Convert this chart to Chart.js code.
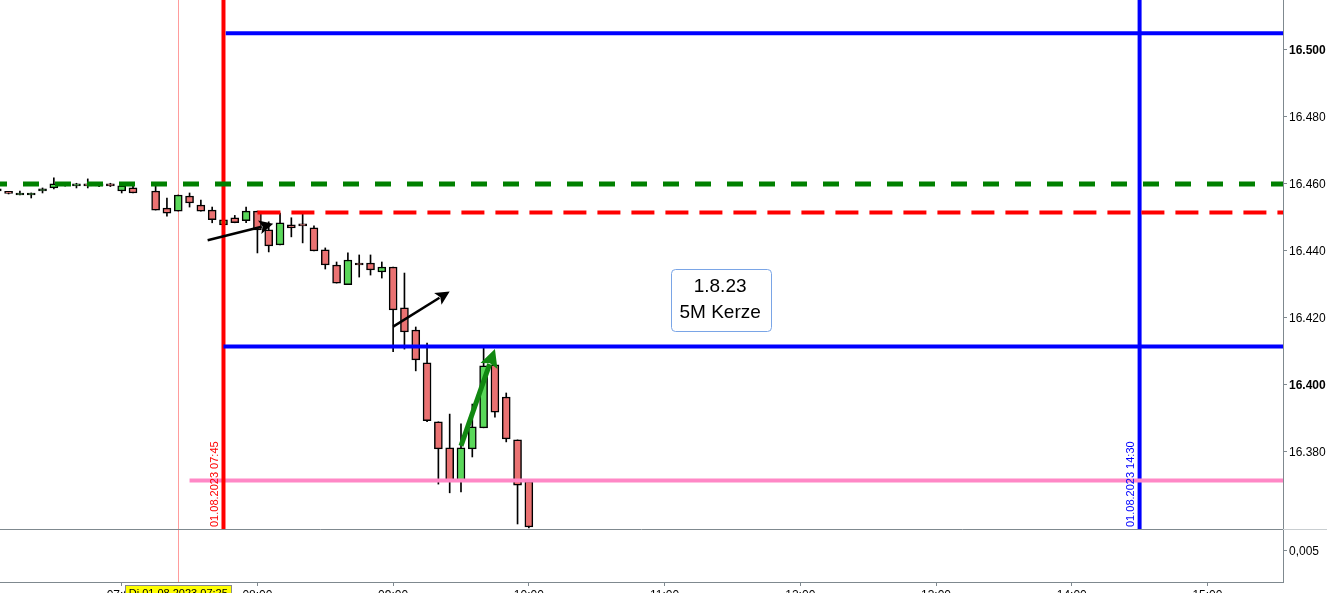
<!DOCTYPE html>
<html>
<head>
<meta charset="utf-8">
<title>DAX 5M</title>
<script src="https://cdn.jsdelivr.net/npm/chart.js@4.4.1/dist/chart.umd.min.js"></script>
<style>
  html, body { margin: 0; padding: 0; overflow: hidden; background: #fff; }
  #wrap { position: relative; width: 1327px; height: 605px; }
</style>
</head>
<body>
<div id="wrap"><canvas id="chartKerzen" width="1327" height="605"></canvas></div>
<script>
// 5-Minuten-Kerzen vom 01.08.2023 (Punkte)
const candleTimes = ['06:05', '06:10', '06:15', '06:20', '06:25', '06:30', '06:35', '06:40', '06:45', '06:50',
  '06:55', '07:00', '07:05', '07:15', '07:20', '07:25', '07:30', '07:35', '07:40', '07:45',
  '07:50', '07:55', '08:00', '08:05', '08:10', '08:15', '08:20', '08:25', '08:30', '08:35',
  '08:40', '08:45', '08:50', '08:55', '09:00', '09:05', '09:10', '09:15', '09:20', '09:25',
  '09:30', '09:35', '09:40', '09:45', '09:50', '09:55', '10:00'];
const opens = [16458.5, 16457.2, 16456.7, 16456.7, 16457.9, 16458.8, 16460.2, 16459.4, 16459.4, 16459.7,
  16460.0, 16457.9, 16458.8, 16457.9, 16452.8, 16451.9, 16456.4, 16453.7, 16452.2, 16447.8,
  16449.9, 16449.0, 16451.9, 16446.3, 16441.8, 16447.8, 16447.5, 16446.9, 16440.3, 16435.8,
  16429.9, 16436.4, 16436.4, 16433.7, 16435.2, 16423.0, 16416.4, 16406.6, 16389.0, 16381.2,
  16371.3, 16380.9, 16387.2, 16406.0, 16396.4, 16383.6, 16371.3];
const highs = [16458.8, 16457.5, 16457.9, 16457.3, 16458.8, 16461.8, 16460.5, 16460.2, 16461.5, 16460.0,
  16460.2, 16460.3, 16459.4, 16459.4, 16455.8, 16456.7, 16457.3, 16455.2, 16453.1, 16449.6,
  16450.6, 16453.1, 16451.9, 16448.7, 16451.3, 16449.9, 16451.0, 16447.5, 16440.9, 16436.7,
  16439.4, 16438.8, 16438.8, 16436.7, 16435.2, 16433.4, 16417.3, 16412.5, 16389.0, 16391.3,
  16388.4, 16394.3, 16411.3, 16406.0, 16397.6, 16383.6, 16371.3];
const lows = [16457.6, 16457.0, 16456.7, 16455.8, 16457.3, 16458.5, 16459.3, 16458.8, 16458.8, 16459.2,
  16459.2, 16457.3, 16457.3, 16452.2, 16450.4, 16451.9, 16453.1, 16451.9, 16448.4, 16447.5,
  16448.4, 16448.4, 16439.4, 16439.7, 16441.8, 16444.2, 16442.4, 16440.0, 16434.6, 16430.4,
  16429.9, 16432.2, 16432.8, 16431.9, 16409.9, 16410.7, 16404.2, 16389.0, 16370.4, 16367.8,
  16368.1, 16378.5, 16387.2, 16390.4, 16383.0, 16358.5, 16357.3];
const closes = [16457.9, 16457.2, 16457.2, 16457.3, 16458.5, 16460.0, 16459.6, 16460.0, 16459.4, 16459.4,
  16459.4, 16459.4, 16457.3, 16452.2, 16451.3, 16456.7, 16454.3, 16451.9, 16449.3, 16449.3,
  16448.4, 16451.9, 16446.3, 16441.5, 16448.4, 16446.9, 16447.5, 16440.0, 16435.8, 16430.4,
  16437.3, 16435.8, 16434.3, 16435.2, 16422.4, 16415.8, 16407.5, 16389.3, 16380.9, 16371.3,
  16381.2, 16387.5, 16405.7, 16391.9, 16383.9, 16370.1, 16357.6];

// horizontale Marken (Niveau und Beginn)
const greenLevel = 16460;
const redLevel = 16451.5;
const redLevelFrom = '08:00';
const blueTopLevel = 16505;
const blueTopFrom = '07:46';
const blueMidLevel = 16411.5;
const blueMidFrom = '07:45';
const pinkLevel = 16371.5;
const pinkFrom = '07:30';

// senkrechte Marken
const markerTimes = ['07:45', '14:30'];
const markerLabels = ['01.08.2023 07:45', '01.08.2023 14:30'];
const cursorTime = '07:25';
const cursorLabel = 'Di 01.08.2023 07:25';

// Pfeile (Zeit, Kurs)
const arrowFrom = [['07:38', 16443.2], ['09:00', 16417.4], ['09:30', 16381.8]];
const arrowTo = [['08:07', 16448.1], ['09:25', 16427.9], ['09:45', 16410.7]];

// Notiz
const noteLines = ['1.8.23', '5M Kerze'];
const noteAt = ['11:25', 16425.4];

// Achsen
const xTickTimes = ['07:00', '08:00', '09:00', '10:00', '11:00', '12:00', '13:00', '14:00', '15:00'];
const yTicks = [16380, 16400, 16420, 16440, 16460, 16480, 16500];
const indTicks = [0.005];

const toMin = s => { const p = s.split(':').map(Number); return p[0] * 60 + p[1]; };
const fmtTime = v => String(Math.floor(v / 60)).padStart(2, '0') + ':' + String(Math.round(v % 60)).padStart(2, '0');
const fmtPoints = v => String(Math.round(v)).replace(/\B(?=(\d{3})+(?!\d))/g, '.');

const X_MIN = 366.2, X_MAX = 933.4;
const Y_MIN = 16357.0, Y_MAX = 16514.9;
const GRAY = '#7f898f';
const FONT = '"Liberation Sans", Arial, sans-serif';

Chart.defaults.font.family = FONT;
Chart.defaults.font.size = 12;
Chart.defaults.color = '#000';

function hLine(level, from, color, width, dash, offset) {
  return {
    type: 'line', yAxisID: 'y', order: 0,
    data: [{ x: from, y: level }, { x: X_MAX, y: level }],
    borderColor: color, borderWidth: width, borderDash: dash || [], borderDashOffset: offset || 0,
    pointRadius: 0, borderCapStyle: 'butt'
  };
}
function vLine(t, color) {
  return {
    type: 'line', yAxisID: 'y', order: 0,
    data: [{ x: toMin(t), y: Y_MIN }, { x: toMin(t), y: Y_MAX }],
    borderColor: color, borderWidth: 4, pointRadius: 0, borderCapStyle: 'butt'
  };
}

function drawArrow(ctx, x1, y1, x2, y2, color, width, headLen, headW) {
  const a = Math.atan2(y2 - y1, x2 - x1);
  const bx = x2 - headLen * Math.cos(a), by = y2 - headLen * Math.sin(a);
  ctx.strokeStyle = color;
  ctx.fillStyle = color;
  ctx.lineWidth = width;
  ctx.beginPath();
  ctx.moveTo(x1, y1);
  ctx.lineTo(bx + 2 * Math.cos(a), by + 2 * Math.sin(a));
  ctx.stroke();
  ctx.beginPath();
  ctx.moveTo(x2, y2);
  ctx.lineTo(bx + headW / 2 * Math.sin(a), by - headW / 2 * Math.cos(a));
  ctx.lineTo(bx + 3 * Math.cos(a), by + 3 * Math.sin(a));
  ctx.lineTo(bx - headW / 2 * Math.sin(a), by + headW / 2 * Math.cos(a));
  ctx.closePath();
  ctx.fill();
}

// Zusatzelemente: Fadenkreuz, Pfeile, Beschriftungen, Notiz
const overlayPlugin = {
  id: 'overlay',
  beforeDatasetsDraw(chart) {
    const { ctx, chartArea, scales: { x } } = chart;
    const cx = Math.round(x.getPixelForValue(toMin(cursorTime))) + 0.5;
    ctx.save();
    ctx.strokeStyle = '#ff9c9c';
    ctx.lineWidth = 1;
    ctx.beginPath();
    ctx.moveTo(cx, chartArea.top);
    ctx.lineTo(cx, chartArea.bottom);
    ctx.stroke();
    ctx.restore();
  },
  afterDatasetsDraw(chart) {
    const { ctx, chartArea, scales: { x, y } } = chart;
    ctx.save();

    // Trennlinie zwischen Kurs- und Indikatorfenster
    ctx.strokeStyle = GRAY;
    ctx.lineWidth = 1;
    ctx.beginPath();
    ctx.moveTo(0, Math.round(y.bottom) + 0.5);
    ctx.lineTo(chartArea.right, Math.round(y.bottom) + 0.5);
    ctx.stroke();
    ctx.strokeStyle = '#c9ced1';
    ctx.beginPath();
    ctx.moveTo(chartArea.right, Math.round(y.bottom) + 0.5);
    ctx.lineTo(chart.width, Math.round(y.bottom) + 0.5);
    ctx.stroke();

    // Pfeile
    const styles = [['#000', 2.5, 14, 14], ['#000', 2.5, 14, 14], ['#118811', 5, 18, 18]];
    arrowFrom.forEach((f, i) => {
      const t = arrowTo[i];
      const s = styles[i];
      drawArrow(ctx,
        x.getPixelForValue(toMin(f[0])), y.getPixelForValue(f[1]),
        x.getPixelForValue(toMin(t[0])), y.getPixelForValue(t[1]),
        s[0], s[1], s[2], s[3]);
    });

    // senkrechte Datumsbeschriftungen
    const markerColors = ['#ff0000', '#0000ff'];
    markerTimes.forEach((t, i) => {
      ctx.save();
      ctx.translate(x.getPixelForValue(toMin(t)) - 9, y.bottom - 2);
      ctx.rotate(-Math.PI / 2);
      ctx.fillStyle = markerColors[i];
      ctx.font = '11px ' + FONT;
      ctx.textAlign = 'left';
      ctx.textBaseline = 'middle';
      ctx.fillText(markerLabels[i], 0, 0);
      ctx.restore();
    });

    // Notiz-Kasten
    const nx = x.getPixelForValue(toMin(noteAt[0]));
    const ny = y.getPixelForValue(noteAt[1]);
    const w = 100, h = 62;
    ctx.beginPath();
    ctx.roundRect(Math.round(nx - w / 2) + 0.5, Math.round(ny - h / 2) + 0.5, w, h, 4);
    ctx.fillStyle = '#fff';
    ctx.fill();
    ctx.strokeStyle = '#7aa5e6';
    ctx.lineWidth = 1;
    ctx.stroke();
    ctx.fillStyle = '#000';
    ctx.font = '19px ' + FONT;
    ctx.textAlign = 'center';
    ctx.textBaseline = 'middle';
    ctx.fillText(noteLines[0], nx - 1, ny - 13);
    ctx.fillText(noteLines[1], nx - 1, ny + 13);
    ctx.restore();
  },
  afterDraw(chart) {
    const { ctx, scales: { x } } = chart;
    const cx = x.getPixelForValue(toMin(cursorTime));
    ctx.save();
    ctx.font = '11px ' + FONT;
    const w = Math.ceil(ctx.measureText(cursorLabel).width) + 6;
    const left = Math.round(cx - w / 2) + 0.5;
    const top = Math.round(x.top) + 3.5;
    ctx.fillStyle = '#ffff00';
    ctx.fillRect(left, top, w, 16);
    ctx.strokeStyle = '#8a8a8a';
    ctx.lineWidth = 1;
    ctx.strokeRect(left, top, w, 16);
    ctx.fillStyle = '#000';
    ctx.textAlign = 'center';
    ctx.textBaseline = 'top';
    ctx.fillText(cursorLabel, cx, top + 3);
    ctx.restore();
  }
};

const bodyData = candleTimes.map((t, i) => ({ x: toMin(t), y: [opens[i], closes[i]] }));
const wickData = candleTimes.map((t, i) => ({ x: toMin(t), y: [lows[i], highs[i]] }));

const ctx = document.getElementById('chartKerzen');
new Chart(ctx, {
  type: 'bar',
  data: {
    datasets: [
      hLine(greenLevel, X_MIN, '#008000', 5, [16, 16], 9),
      hLine(redLevel, toMin(redLevelFrom), '#ff0000', 4, [23, 11], 0),
      hLine(blueTopLevel, toMin(blueTopFrom), '#0000ff', 4),
      hLine(blueMidLevel, toMin(blueMidFrom), '#0000ff', 4),
      vLine(markerTimes[0], '#ff0000'),
      hLine(pinkLevel, toMin(pinkFrom), '#ff88c6', 4),
      vLine(markerTimes[1], '#0000ff'),
      {
        label: 'Kerzen',
        yAxisID: 'y', order: 1, grouped: false,
        data: bodyData,
        barThickness: 8,
        minBarLength: 2,
        borderSkipped: false,
        borderWidth: 1.5,
        borderColor: '#000',
        backgroundColor: c => (closes[c.dataIndex] > opens[c.dataIndex] ? '#5ad85a' : '#ea7272')
      },
      {
        label: 'Dochte',
        yAxisID: 'y', order: 2, grouped: false,
        data: wickData,
        barThickness: 1,
        borderWidth: 0,
        backgroundColor: '#000'
      }
    ]
  },
  options: {
    responsive: false,
    animation: false,
    devicePixelRatio: 1,
    layout: { padding: 0 },
    plugins: { legend: { display: false }, tooltip: { enabled: false } },
    scales: {
      x: {
        type: 'linear', position: 'bottom', min: X_MIN, max: X_MAX, offset: false,
        grid: { drawOnChartArea: false, drawTicks: true, tickLength: 4, color: GRAY, offset: false },
        border: { display: true, color: GRAY },
        ticks: { padding: 2, maxRotation: 0, autoSkip: false, callback: v => fmtTime(v) },
        afterBuildTicks: s => { s.ticks = xTickTimes.map(t => ({ value: toMin(t) })); },
        afterFit: s => { s.height = 23; s.paddingLeft = 0; s.paddingRight = 0; }
      },
      y: {
        type: 'linear', position: 'right', stack: 'panels', stackWeight: 529,
        min: Y_MIN, max: Y_MAX,
        grid: { drawOnChartArea: false, tickLength: 4, color: GRAY },
        border: { display: true, color: GRAY },
        ticks: {
          padding: 2,
          labelOffset: 1,
          callback: v => fmtPoints(v),
          font: c => ({ size: 12, weight: c.tick && c.tick.value % 100 === 0 ? 'bold' : 'normal' })
        },
        afterBuildTicks: s => { s.ticks = yTicks.map(v => ({ value: v })); },
        afterFit: s => { s.width = 44; s.paddingTop = 0; s.paddingBottom = 0; }
      },
      y2: {
        type: 'linear', position: 'right', stack: 'panels', stackWeight: 53,
        min: 0, max: 0.0085,
        grid: { drawOnChartArea: false, tickLength: 4, color: GRAY },
        border: { display: true, color: GRAY },
        ticks: { padding: 2, labelOffset: 1, callback: v => String(v).replace('.', ',') },
        afterBuildTicks: s => { s.ticks = indTicks.map(v => ({ value: v })); },
        afterFit: s => { s.width = 44; s.paddingTop = 0; s.paddingBottom = 0; }
      }
    }
  },
  plugins: [overlayPlugin]
});
</script>
</body>
</html>
